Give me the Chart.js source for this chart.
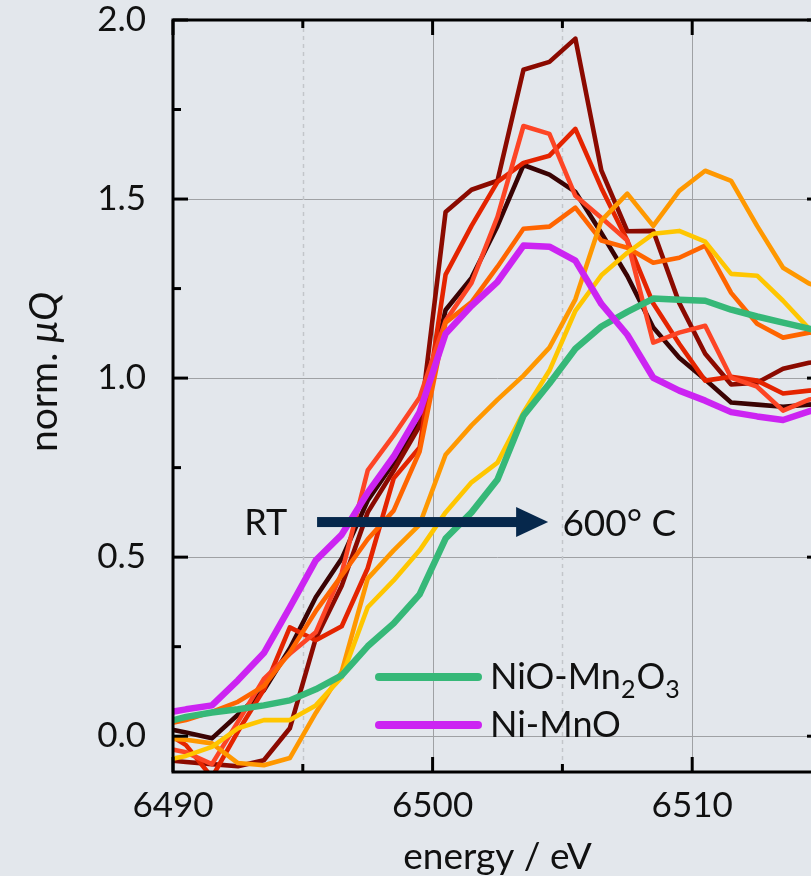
<!DOCTYPE html>
<html>
<head>
<meta charset="utf-8">
<script src="https://cdn.jsdelivr.net/npm/chart.js@4.4.1/dist/chart.umd.min.js"></script>
<style>
html,body{margin:0;padding:0;background:#e3e7ec;overflow:hidden;width:811px;height:876px;}
#wrap{position:absolute;left:0;top:0;width:840px;height:876px;}
canvas{display:block;}
</style>
</head>
<body>
<div id="wrap"><canvas id="c" width="840" height="876"></canvas></div>
<script>
// ---- data ----
const energy = [6489.5, 6490.5, 6491.5, 6492.5, 6493.5, 6494.5, 6495.5, 6496.5, 6497.5, 6498.5,
                6499.5, 6500.5, 6501.5, 6502.5, 6503.5, 6504.5, 6505.5, 6506.5, 6507.5, 6508.5,
                6509.5, 6510.5, 6511.5, 6512.5, 6513.5, 6514.5, 6515.5];

const heat1 = [0.025, 0.01, -0.006, 0.06, 0.128, 0.245, 0.388, 0.496, 0.658, 0.764, 0.876, 1.19, 1.28, 1.425, 1.595, 1.568, 1.52, 1.405, 1.285, 1.141, 1.057, 0.996, 0.932, 0.926, 0.92, 0.926, 0.93];
const heat2 = [-0.065, -0.072, -0.078, -0.084, -0.067, 0.022, 0.273, 0.42, 0.625, 0.742, 0.867, 1.464, 1.526, 1.551, 1.861, 1.883, 1.948, 1.58, 1.41, 1.411, 1.21, 1.068, 0.982, 0.987, 1.026, 1.043, 1.05];
const heat3 = [0.02, -0.025, -0.115, 0.013, 0.13, 0.304, 0.268, 0.307, 0.469, 0.72, 0.806, 1.289, 1.425, 1.548, 1.601, 1.621, 1.696, 1.531, 1.384, 1.208, 1.096, 0.993, 1.004, 0.993, 0.957, 0.965, 0.97];
const heat4 = [-0.03, -0.045, -0.078, 0.04, 0.16, 0.23, 0.29, 0.456, 0.742, 0.84, 0.946, 1.16, 1.266, 1.45, 1.704, 1.682, 1.509, 1.448, 1.384, 1.099, 1.127, 1.146, 1.001, 0.976, 0.909, 0.94, 0.95];
const heat5 = [0.03, 0.045, 0.068, 0.096, 0.14, 0.234, 0.349, 0.449, 0.55, 0.63, 0.795, 1.155, 1.212, 1.311, 1.417, 1.423, 1.476, 1.384, 1.364, 1.322, 1.336, 1.37, 1.238, 1.152, 1.113, 1.127, 1.13];
const heat6 = [-0.005, -0.01, -0.02, -0.075, -0.081, -0.061, 0.065, 0.18, 0.44, 0.519, 0.591, 0.786, 0.868, 0.94, 1.007, 1.085, 1.22, 1.44, 1.515, 1.425, 1.523, 1.579, 1.551, 1.425, 1.308, 1.264, 1.24];
const heat7 = [-0.07, -0.055, -0.03, 0.022, 0.045, 0.045, 0.086, 0.165, 0.36, 0.435, 0.519, 0.625, 0.709, 0.764, 0.904, 1.021, 1.188, 1.287, 1.35, 1.403, 1.411, 1.381, 1.291, 1.286, 1.216, 1.138, 1.09];
const refNiOMn2O3 = [0.035, 0.054, 0.066, 0.075, 0.086, 0.10, 0.131, 0.17, 0.251, 0.315, 0.396, 0.552, 0.625, 0.717, 0.895, 0.985, 1.082, 1.144, 1.185, 1.222, 1.219, 1.216, 1.191, 1.172, 1.155, 1.138, 1.12];
const refNiMnO = [0.062, 0.075, 0.086, 0.156, 0.232, 0.36, 0.491, 0.563, 0.68, 0.781, 0.905, 1.124, 1.202, 1.269, 1.37, 1.367, 1.328, 1.207, 1.121, 1.001, 0.965, 0.937, 0.905, 0.893, 0.883, 0.907, 0.93];

const xTickValues = [6490, 6500, 6510];
const xMinorTicks = [6495, 6505, 6515];
const yTickValues = [0.0, 0.5, 1.0, 1.5, 2.0];
const yMinorTicks = [0.25, 0.75, 1.25, 1.75];

// ---- styles ----
const FONT = 'Lato, "Open Sans", sans-serif';
const TEXT = '#111111';
const heatColors = ['#3a0303', '#8b0a00', '#e42400', '#fd4525', '#ff6500', '#ff9800', '#ffc600'];
const GREEN = '#36b878', PURPLE = '#cc24f2', NAVY = '#06284c';

function pts(ys){ return energy.map((e,i)=>({x:e, y:ys[i]})); }
function ds(label, ys, color, w){
  return {label, data: pts(ys), borderColor: color, backgroundColor: color, borderWidth: w,
          pointRadius: 0, tension: 0, fill: false, clip: 0, borderJoinStyle: 'round'};
}
const heats = [heat1, heat2, heat3, heat4, heat5, heat6, heat7];
const heatNames = ['RT', 'step 2', 'step 3', 'step 4', 'step 5', 'step 6', '600° C'];
const datasets = [
  ds('Ni-MnO', refNiMnO, PURPLE, 6.5),
  ds('NiO-Mn2O3', refNiOMn2O3, GREEN, 6.5)
];
for (let i = heats.length - 1; i >= 0; i--) datasets.push(ds(heatNames[i], heats[i], heatColors[i], 4.6));

const decor = {
  id: 'decor',
  beforeDatasetsDraw(chart){
    const {ctx, chartArea: a, scales: {x, y}} = chart;
    ctx.save();
    ctx.lineWidth = 1; ctx.strokeStyle = '#9fa1a4';
    yTickValues.forEach(v => { if (v >= 2) return; const p = Math.round(y.getPixelForValue(v)) + 0.5;
      ctx.beginPath(); ctx.moveTo(a.left, p); ctx.lineTo(a.right, p); ctx.stroke(); });
    xTickValues.forEach(v => { if (v <= 6490) return; const p = Math.round(x.getPixelForValue(v)) + 0.5;
      ctx.beginPath(); ctx.moveTo(p, a.top); ctx.lineTo(p, a.bottom); ctx.stroke(); });
    ctx.strokeStyle = '#c3c6ca'; ctx.lineWidth = 1.5; ctx.setLineDash([4, 4]);
    xMinorTicks.forEach(v => { if (v >= 6515) return; const p = Math.round(x.getPixelForValue(v)) + 0.5;
      ctx.beginPath(); ctx.moveTo(p, a.top); ctx.lineTo(p, a.bottom); ctx.stroke(); });
    ctx.restore();
  },
  afterDatasetsDraw(chart){
    const {ctx, chartArea: a, scales: {x, y}} = chart;
    ctx.save();
    // axis box
    ctx.strokeStyle = '#000'; ctx.lineWidth = 3; ctx.lineCap = 'square';
    ctx.strokeRect(a.left, a.top, a.right - a.left, a.bottom - a.top);
    ctx.lineCap = 'butt';
    const tick = (x1, y1, x2, y2) => { ctx.beginPath(); ctx.moveTo(x1, y1); ctx.lineTo(x2, y2); ctx.stroke(); };
    const MAJ = 15, MIN = 8;
    xTickValues.forEach(v => { const p = x.getPixelForValue(v); tick(p, a.bottom, p, a.bottom - MAJ); tick(p, a.top, p, a.top + MAJ); });
    xMinorTicks.forEach(v => { const p = x.getPixelForValue(v); tick(p, a.bottom, p, a.bottom - MIN); tick(p, a.top, p, a.top + MIN); });
    yTickValues.forEach(v => { const p = y.getPixelForValue(v); tick(a.left, p, a.left + MAJ, p); tick(a.right, p, a.right - MAJ, p); });
    yMinorTicks.forEach(v => { const p = y.getPixelForValue(v); tick(a.left, p, a.left + MIN, p); tick(a.right, p, a.right - MIN, p); });

    // arrow RT -> 600° C
    const ay = y.getPixelForValue(0.598);
    const ax0 = x.getPixelForValue(6495.55), ax1 = x.getPixelForValue(6504.45);
    ctx.fillStyle = NAVY;
    ctx.fillRect(ax0, ay - 5, (ax1 - 31) - ax0, 10);
    ctx.beginPath(); ctx.moveTo(ax1 - 32, ay - 15); ctx.lineTo(ax1, ay); ctx.lineTo(ax1 - 32, ay + 15); ctx.closePath(); ctx.fill();
    ctx.fillStyle = TEXT; ctx.textBaseline = 'alphabetic';
    ctx.font = '36px ' + FONT;
    ctx.textAlign = 'right'; ctx.fillText('RT', x.getPixelForValue(6494.4), ay + 13);
    ctx.font = '37px ' + FONT;
    ctx.textAlign = 'left'; ctx.fillText('600° C', x.getPixelForValue(6505.0), ay + 14);

    // legend
    const leg = [[GREEN, 'NiO-Mn', [['2', 'O'], ['3', '']]], [PURPLE, 'Ni-MnO', []]];
    const ly = [677, 725];
    leg.forEach((L, i) => {
      ctx.strokeStyle = L[0]; ctx.lineWidth = 8; ctx.lineCap = 'round';
      ctx.beginPath(); ctx.moveTo(a.left + 206, ly[i]); ctx.lineTo(a.left + 305, ly[i]); ctx.stroke();
      ctx.fillStyle = TEXT; ctx.textAlign = 'left';
      let tx = a.left + 317; const base = ly[i] + 12;
      ctx.font = '36px ' + FONT; ctx.fillText(L[1], tx, base); tx += ctx.measureText(L[1]).width;
      L[2].forEach(([sub, after]) => {
        ctx.font = '25px ' + FONT; ctx.fillText(sub, tx, base + 9); tx += ctx.measureText(sub).width + 1;
        if (after) { ctx.font = '36px ' + FONT; ctx.fillText(after, tx, base); tx += ctx.measureText(after).width; }
      });
    });

    // y axis title: "norm. μQ"
    ctx.translate(57, 372); ctx.rotate(-Math.PI / 2);
    ctx.fillStyle = TEXT; ctx.textAlign = 'left';
    const f1 = '39px ' + FONT, f2 = 'italic 39px ' + FONT;
    ctx.font = f1; const w1 = ctx.measureText('norm. ').width;
    ctx.font = f2; const w2 = ctx.measureText('μQ').width;
    let sx = -(w1 + w2) / 2;
    ctx.font = f1; ctx.fillText('norm. ', sx, 0);
    ctx.font = f2; ctx.fillText('μQ', sx + w1, 0);
    ctx.restore();
  }
};

new Chart(document.getElementById('c'), {
  type: 'line',
  data: { datasets },
  options: {
    responsive: false, animation: false, devicePixelRatio: 1,
    layout: { padding: { left: 0, top: 20, right: 18, bottom: 0 } },
    plugins: { legend: { display: false }, tooltip: { enabled: false } },
    scales: {
      x: {
        type: 'linear', position: 'bottom', min: 6490, max: 6515,
        grid: { display: false, drawTicks: false }, border: { display: false },
        afterBuildTicks: s => { s.ticks = xTickValues.map(v => ({ value: v })); },
        afterFit: s => { s.height = 104; s.paddingLeft = 0; s.paddingRight = 0; },
        ticks: { color: TEXT, font: { family: FONT, size: 35 }, padding: 13, maxRotation: 0, callback: v => String(v) },
        title: { display: true, text: 'energy / eV', color: TEXT, font: { family: FONT, size: 37 }, padding: { top: 0, bottom: -3 } }
      },
      y: {
        type: 'linear', position: 'left', min: -0.1, max: 2.0,
        grid: { display: false, drawTicks: false }, border: { display: false },
        afterBuildTicks: s => { s.ticks = yTickValues.map(v => ({ value: v })); },
        afterFit: s => { s.width = 173; s.paddingTop = 0; s.paddingBottom = 0; },
        ticks: { color: TEXT, font: { family: FONT, size: 35 }, padding: 27, callback: v => v.toFixed(1) }
      }
    }
  },
  plugins: [decor]
});
</script>
</body>
</html>
